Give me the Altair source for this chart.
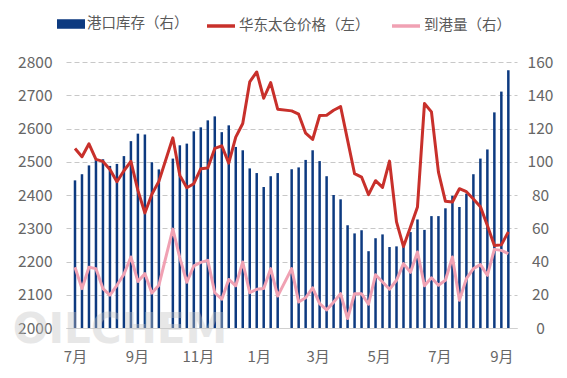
import altair as alt
import pandas as pd

# ---- data ----
week_start = "2022-07-01"
n_weeks = 63
# 港口库存（右）  weekly, None = no data (holiday weeks)
inventory = [88.8, 92.5, 97.8, 101.0, 101.5, 97.5, 98.7, 103.4, 112.4, 116.9, 116.4, 99.7, 95.4, None,
             101.9, 109.9, 110.9, 118.3, 120.7, 124.9, 127.3, 117.8, 121.9, 108.9, 106.9, 96.0, 93.2, 84.8, 91.3, 93.2, None,
             95.5, 96.6, 101.1, 106.9, 100.4, 91.3, 80.0, 77.4, 61.8, 56.9, 58.8, 46.2, 54.0, 56.3, 48.7, 49.1, 51.7, 57.7, 65.3, 59.0,
             67.3, 67.3, 72.0, 79.5, 72.8, 80.8, 92.5, 101.9, 107.4, 129.7, 142.2, 155.0]
# 华东太仓价格（左）
price = [2540, 2515, 2554, 2507, 2501, 2477, 2440, 2473, 2501, 2414, 2346, 2402, 2441, None,
         2572, 2459, 2422, 2434, 2479, 2481, 2540, 2548, 2496, 2574, 2615, 2740, 2770, 2691, 2738, 2658, None,
         2653, 2643, 2586, 2567, 2639, 2640, 2655, 2666, 2565, 2464, 2454, 2401, 2443, 2423, 2502, 2319, 2245, 2304, 2364, 2675,
         2650, 2469, 2381, 2379, 2419, 2410, 2388, 2365, 2308, 2248, 2250, 2289]
# 到港量（右）
arrivals = [36.5, 23.7, 36.5, 35.7, 23.7, 19.8, 25.7, 32.3, 42.7, 28.0, 32.7, 21.0, 25.7, None,
            59.5, 42.2, 27.5, 37.4, 39.5, 40.7, 21.2, 17.3, 29.2, 25.4, 39.7, 21.2, 23.3, 23.7, 35.7, 19.2, None,
            35.7, 15.6, 18.2, 24.2, 14.7, 10.9, 15.5, 20.7, 5.7, 20.6, 20.6, 14.3, 32.0, 27.7, 23.3, 28.7, 38.7, 33.5, 45.7, 25.4,
            30.2, 25.7, 28.7, 42.7, 16.7, 29.7, 35.7, 38.1, 31.7, 47.3, 46.7, 44.8]

series_names = ["港口库存（右）", "华东太仓价格（左）", "到港量（右）"]
series_colors = ["#0d3a80", "#c8302b", "#f0a1b3"]
month_ticks = [(2022, 7), (2022, 9), (2022, 11), (2023, 1), (2023, 3), (2023, 5), (2023, 7), (2023, 9)]
left_ticks = list(range(2000, 2801, 100))
right_ticks = list(range(0, 161, 20))
watermark = "OILCHEM"

FONT = "Noto Sans CJK SC"
LABEL = "#666666"

dates = pd.date_range(week_start, periods=n_weeks, freq="7D").strftime("%Y-%m-%d").tolist()
df = pd.DataFrame({"date": dates, "inv": inventory, "price": price, "arr": arrivals})
inv_df = df.dropna(subset=["inv"]).assign(series=series_names[0])
price_df = df.dropna(subset=["price"]).assign(series=series_names[1])
arr_df = df.dropna(subset=["arr"]).assign(series=series_names[2])

x_scale = alt.Scale(type="utc", domain=[alt.DateTime(year=2022, month=6, date=27, utc=True),
                                        alt.DateTime(year=2023, month=9, date=11, hours=16, utc=True)])
x_axis = alt.Axis(values=[alt.DateTime(year=y, month=m, date=1, utc=True) for y, m in month_ticks],
                  labelExpr="utcFormat(datum.value, '%-m') + '月'",
                  grid=False, domain=True, domainColor="#d0d0d0", ticks=False,
                  labelPadding=21, labelFontSize=15, labelColor=LABEL, labelFont=FONT, title=None)
X = alt.X("date:T", scale=x_scale, axis=x_axis)

left_axis = alt.Axis(orient="left", values=left_ticks, format="d", grid=True, gridColor="#c8c8c8",
                     gridDash=[5, 3], domain=False, ticks=False, labelPadding=14, labelFontSize=15.5,
                     labelColor=LABEL, labelFont=FONT, title=None)
right_axis = alt.Axis(orient="right", values=right_ticks, format="d", grid=False, domain=False, ticks=False,
                      labelAlign="center", labelPadding=23, labelFontSize=15.5, labelColor=LABEL,
                      labelFont=FONT, title=None)
right_scale = alt.Scale(domain=[0, 160], nice=False)

fill_legend = alt.Legend(orient="none", legendX=-9, legendY=-52, direction="horizontal", title=None,
                         symbolType="M-1,-0.34H1V0.34H-1Z", symbolSize=784, symbolStrokeWidth=0,
                         symbolOpacity=1, labelFontSize=14.5, labelColor="#595959", labelFont=FONT,
                         labelOffset=2, padding=0)
stroke_legend = alt.Legend(orient="none", legendX=139, legendY=-52, direction="horizontal", title=None,
                           symbolType="stroke", symbolSize=784, symbolStrokeWidth=3.5,
                           symbolOpacity=1, labelFontSize=14.5, labelColor="#595959", labelFont=FONT,
                           labelOffset=2, columnPadding=15, padding=0)

bars = alt.Chart(inv_df).mark_bar(width=2.5).encode(
    x=X,
    y=alt.Y("inv:Q", scale=right_scale, axis=right_axis),
    fill=alt.Fill("series:N", scale=alt.Scale(domain=[series_names[0]], range=[series_colors[0]]),
                  legend=fill_legend),
)
stroke_scale = alt.Scale(domain=series_names[1:], range=series_colors[1:])
pink = alt.Chart(arr_df).mark_line(strokeWidth=3, strokeJoin="round").encode(
    x=X,
    y=alt.Y("arr:Q", scale=right_scale, axis=right_axis),
    stroke=alt.Stroke("series:N", scale=stroke_scale, legend=stroke_legend),
)
red = alt.Chart(price_df).mark_line(strokeWidth=3, strokeJoin="round").encode(
    x=X,
    y=alt.Y("price:Q", scale=alt.Scale(domain=[2000, 2800], nice=False), axis=left_axis),
    stroke=alt.Stroke("series:N", scale=stroke_scale, legend=stroke_legend),
)
wm = alt.Chart(pd.DataFrame({"t": [watermark]})).mark_text(
    font="DejaVu Sans", fontWeight="bold", fontSize=42, color="#c4c4c4", opacity=0.4,
    align="center", baseline="alphabetic"
).encode(text="t:N", x=alt.value(54), y=alt.value(281))

chart = alt.layer(alt.layer(bars, pink), red, wm).resolve_scale(y="independent").properties(
    width=451, height=266, autosize="none",
    padding={"left": 58, "top": 54, "right": 42, "bottom": 45},
    background="white",
).configure_view(stroke=None)

chart.save("out.html", embed_options={"renderer": "svg", "actions": False})
